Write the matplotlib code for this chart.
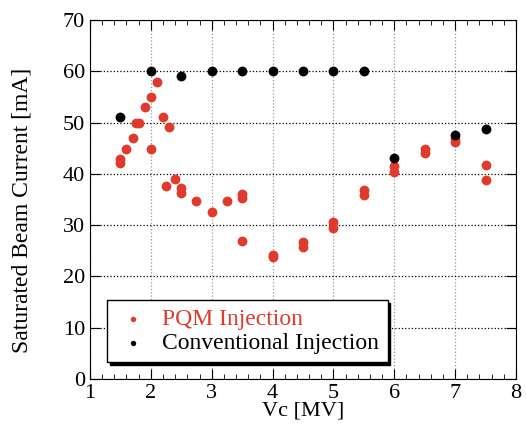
import matplotlib
matplotlib.use('Agg')
import matplotlib.pyplot as plt
from matplotlib.ticker import MultipleLocator

# PQM injection (red)
pqm_vc = [1.5, 1.5, 1.6, 1.7, 1.75, 1.8, 1.9, 2.0, 2.0, 2.1, 2.2, 2.25, 2.3, 2.4,
          2.5, 2.5, 2.75, 3.0, 3.25, 3.5, 3.5, 3.5, 4.0, 4.0, 4.5, 4.5, 5.0, 5.0,
          5.5, 5.5, 6.0, 6.0, 6.5, 6.5, 7.0, 7.0, 7.5, 7.5]
pqm_cur = [42.9, 42.2, 44.8, 46.9, 50.0, 50.0, 53.0, 55.0, 44.8, 58.0, 51.0, 37.7, 49.1, 39.0,
           37.2, 36.3, 34.8, 32.6, 34.8, 36.0, 35.3, 27.0, 24.1, 23.8, 26.7, 25.8, 30.7, 29.5,
           36.8, 35.8, 41.5, 40.3, 44.8, 44.1, 46.7, 46.2, 41.7, 38.8]

# conventional injection (black)
conv_vc = [1.5, 2.0, 2.5, 3.0, 3.5, 4.0, 4.5, 5.0, 5.5, 6.0, 7.0, 7.5]
conv_cur = [51.0, 60.0, 59.0, 60.0, 60.0, 60.0, 60.0, 60.0, 60.0, 43.0, 47.5, 48.7]

plt.rcParams['font.family'] = ['Liberation Serif', 'DejaVu Serif']

fig = plt.figure(figsize=(5.26, 4.3), dpi=100)
ax = fig.add_axes([0.171, 0.1186, 0.81, 0.835])

ax.scatter(pqm_vc, pqm_cur, s=50, color='#e03a2c', label='PQM Injection', zorder=3, linewidths=0)
ax.scatter(conv_vc, conv_cur, s=50, color='black', label='Conventional Injection', zorder=3, linewidths=0)

ax.set_xlim(1, 8)
ax.set_ylim(0, 70)
ax.xaxis.set_major_locator(MultipleLocator(1))
ax.xaxis.set_minor_locator(MultipleLocator(0.2))
ax.yaxis.set_major_locator(MultipleLocator(10))

ax.xaxis.grid(True, linestyle=':', color='#999999', linewidth=0.9)
ax.yaxis.grid(True, linestyle=':', color='black', linewidth=0.9)
ax.set_axisbelow(True)

ax.tick_params(which='both', direction='in', top=True, right=True, labelsize=16)
ax.tick_params(which='major', length=7)
ax.tick_params(which='minor', length=3.5)

ax.set_xlabel('Vc [MV]', fontsize=16, labelpad=-1)
ax.set_ylabel('Saturated Beam Current [mA]', fontsize=17)
ax.yaxis.set_label_coords(-0.135, 0.47)

leg = ax.legend(loc='lower left', bbox_to_anchor=(0.04, 0.047), fontsize=17, frameon=True,
                fancybox=False, shadow={'color': 'black', 'alpha': 1}, edgecolor='black',
                handletextpad=0.5, borderpad=0.35, labelspacing=0.1, markerscale=0.55,
                handlelength=1.5, borderaxespad=0)
leg.get_frame().set_linewidth(1.0)
leg.get_texts()[0].set_color('#e03a2c')

fig.savefig('out.png', dpi=100)
